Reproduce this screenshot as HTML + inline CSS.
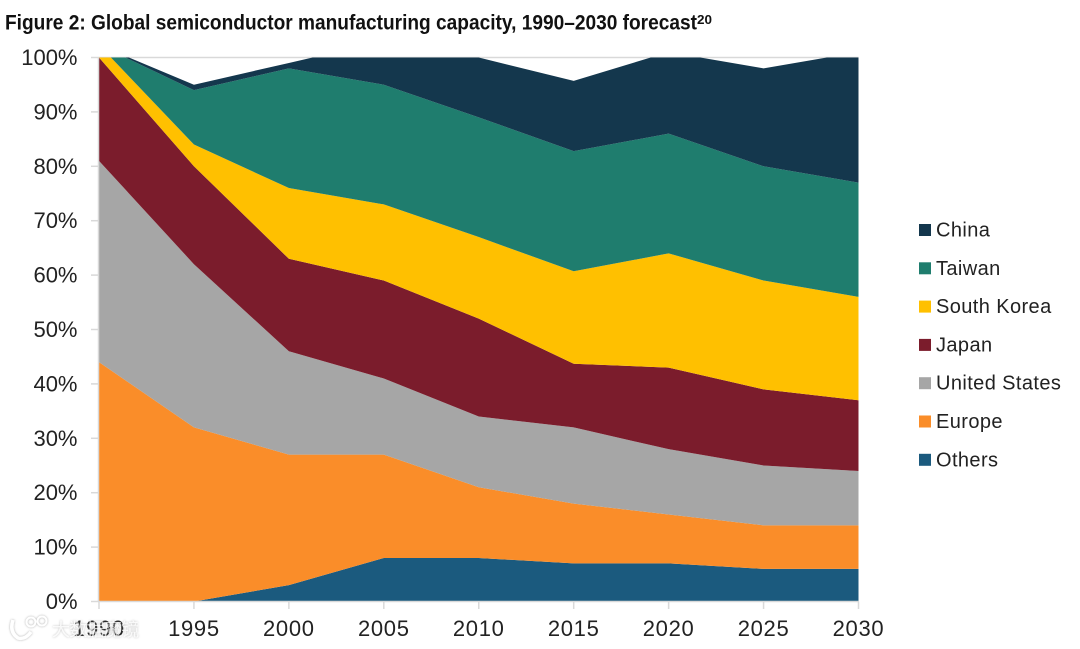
<!DOCTYPE html>
<html lang="en">
<head>
<meta charset="utf-8">
<title>Global semiconductor manufacturing capacity</title>
<style>
html,body{margin:0;padding:0;background:#fff;}
body{width:1080px;height:649px;overflow:hidden;}
svg{display:block;font-family:"Liberation Sans",sans-serif;}
</style>
</head>
<body>
<svg id="chart" width="1080" height="649" viewBox="0 0 1080 649" xmlns="http://www.w3.org/2000/svg">
  <defs>
    <clipPath id="plot-clip"><rect x="99" y="57.5" width="759.5" height="544"/></clipPath>
    <filter id="wm-shadow" x="-20%" y="-20%" width="140%" height="140%"><feDropShadow dx="0" dy="0" stdDeviation="1" flood-color="#888" flood-opacity="0.8"/></filter>
  </defs>
  <text x="5" y="29.5" font-size="21" font-weight="700" fill="#111" textLength="692" lengthAdjust="spacingAndGlyphs">Figure 2: Global semiconductor manufacturing capacity, 1990–2030 forecast</text>
  <text x="697" y="24" font-size="13" font-weight="700" fill="#111" textLength="15" lengthAdjust="spacingAndGlyphs">20</text>
  <g id="grid"></g>
  <g id="areas" clip-path="url(#plot-clip)"></g>
  <g id="axes"></g>
  <g id="legend"></g>
  <g filter="url(#wm-shadow)" opacity="0.9">
    <circle cx="31" cy="622" r="4.5" fill="none" stroke="#fff" stroke-width="2"/>
    <circle cx="42" cy="621" r="4.5" fill="none" stroke="#fff" stroke-width="2"/>
    <path d="M13 620 Q9 632 18 638 Q25 640 31 632" fill="none" stroke="#fff" stroke-width="3.5"/>
    <text x="52" y="636" font-size="18" fill="#fff" fill-opacity="0.8" textLength="87" style="font-family:'Liberation Sans','Noto Sans CJK SC',sans-serif">大数据魔镜</text>
  </g>
</svg>
<script>
const years = [1990, 1995, 2000, 2005, 2010, 2015, 2020, 2025, 2030];
const others = [0, 0, 3, 8, 8, 7, 7, 6, 6];
const europe = [44, 32, 24, 19, 13, 11, 9, 8, 8];
const unitedStates = [37, 30, 19, 14, 13, 14, 12, 11, 10];
const japan = [19, 18, 17, 18, 18, 11.7, 15, 14, 13];
const southKorea = [2.3, 4, 13, 14, 15, 17, 21, 20, 19];
const taiwan = [0, 10, 22, 22, 22, 22.1, 22, 21, 21];
const china = [0, 1, 1, 8, 11, 12.9, 15, 18, 24];
const yTicks = [0, 10, 20, 30, 40, 50, 60, 70, 80, 90, 100];
const seriesNames = ['Others', 'Europe', 'United States', 'Japan', 'South Korea', 'Taiwan', 'China'];
const seriesColors = ['#1B5A7E', '#FA8D29', '#A6A6A6', '#7B1C2C', '#FFC000', '#1F7D6E', '#14374D'];
const seriesValues = [others, europe, unitedStates, japan, southKorea, taiwan, china];

const NS = 'http://www.w3.org/2000/svg';
const xScale = y => 99 + (y - 1990) * (759.5 / 40);
const yScale = v => 601.5 - v * 5.44;
function mk(parent, tag, attrs, text) {
  const el = document.createElementNS(NS, tag);
  for (const k in attrs) el.setAttribute(k, attrs[k]);
  if (text !== undefined) el.textContent = text;
  parent.appendChild(el);
  return el;
}
const slug = s => s.toLowerCase().replace(/\s+/g, '-');
const gridG = document.getElementById('grid');
const areasG = document.getElementById('areas');
const axesG = document.getElementById('axes');
const legendG = document.getElementById('legend');

yTicks.forEach(t => {
  const tick = mk(axesG, 'line', {x1: 91, x2: 99, y1: yScale(t), y2: yScale(t), stroke: '#d9d9d9', 'stroke-width': 1.5});
  
  
  const label = mk(axesG, 'text', {x: 77.5, y: yScale(t) + 7.5, 'text-anchor': 'end', 'font-size': 22, fill: '#222'}, t + '%');
  
  
});
const topGrid = mk(gridG, 'line', {x1: 99, x2: 858.5, y1: yScale(100), y2: yScale(100), stroke: '#d9d9d9', 'stroke-width': 1.5});



let base = years.map(() => 0);
seriesValues.forEach((vals, i) => {
  const top = vals.map((v, j) => base[j] + v);
  const pts = years.map((y, j) => xScale(y) + ',' + yScale(top[j]))
    .concat(years.map((y, j) => xScale(y) + ',' + yScale(base[j])).reverse());
  const poly = mk(areasG, 'polygon', {points: pts.join(' '), fill: seriesColors[i]});
  
  
  base = top;
});

const yAxis = mk(axesG, 'line', {x1: 98.5, x2: 98.5, y1: 57, y2: 602, stroke: '#d9d9d9', 'stroke-width': 1.5});


const xAxis = mk(axesG, 'line', {x1: 98, x2: 859, y1: 601.5, y2: 601.5, stroke: '#d9d9d9', 'stroke-width': 1.5});


years.forEach(y => {
  const tick = mk(axesG, 'line', {x1: xScale(y), x2: xScale(y), y1: 601.5, y2: 609, stroke: '#d9d9d9', 'stroke-width': 1.5});
  
  
  const label = mk(axesG, 'text', {x: xScale(y), y: 636, 'text-anchor': 'middle', 'font-size': 22, 'letter-spacing': '0.7', fill: '#222'}, y);
  
  
});

seriesNames.slice().reverse().forEach((name, i) => {
  const color = seriesColors[seriesNames.length - 1 - i];
  const cy = 229.5 + i * 38.3;
  const swatch = mk(legendG, 'rect', {x: 919, y: cy - 5.5, width: 12, height: 12, fill: color});
  
  
  const label = mk(legendG, 'text', {x: 936, y: cy + 7, 'font-size': 20, 'letter-spacing': '0.4', fill: '#222'}, name);
  
  
});
</script>
</body>
</html>
